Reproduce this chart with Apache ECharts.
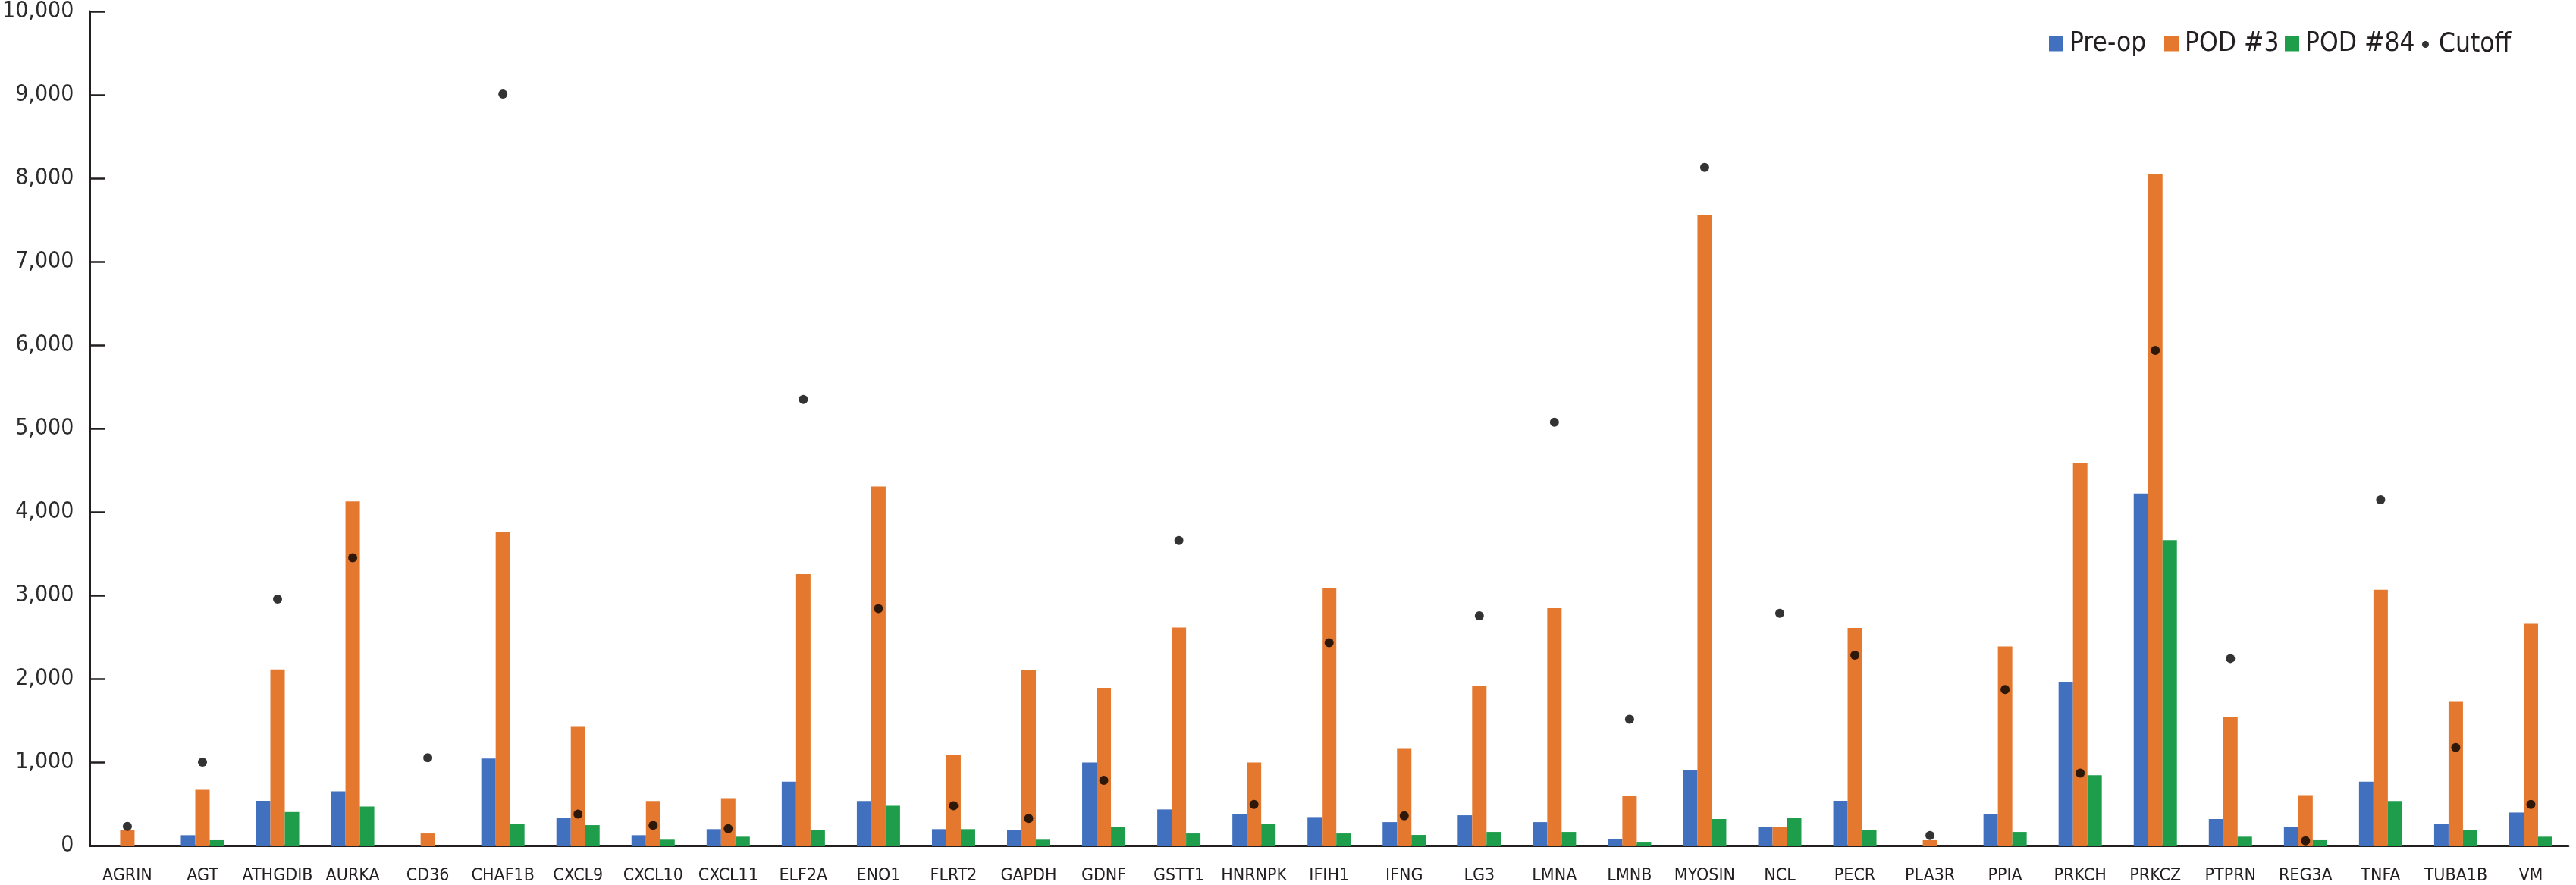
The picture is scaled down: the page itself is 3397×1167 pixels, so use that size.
<!DOCTYPE html>
<html>
<head>
<meta charset="utf-8">
<script src="https://cdn.jsdelivr.net/npm/echarts@6/dist/echarts.min.js"></script>
<style>
html,body{margin:0;padding:0;background:#fff;}
#chart{width:3397px;height:1167px;}
</style>
</head>
<body>
<div id="chart"></div>
<script>
const categories = ['AGRIN','AGT','ATHGDIB','AURKA','CD36','CHAF1B','CXCL9','CXCL10','CXCL11','ELF2A','ENO1','FLRT2','GAPDH','GDNF','GSTT1','HNRNPK','IFIH1','IFNG','LG3','LMNA','LMNB','MYOSIN','NCL','PECR','PLA3R','PPIA','PRKCH','PRKCZ','PTPRN','REG3A','TNFA','TUBA1B','VM'];
const preOp  = [0,124,536,650,0,1044,336,124,197,765,533,197,182,995,433,378,342,281,363,281,76,908,227,536,0,378,1964,4221,318,227,765,260,396];
const pod3   = [182,669,2112,4124,145,3761,1431,533,569,3254,4305,1092,2100,1891,2613,995,3088,1159,1909,2846,590,7556,227,2610,64,2387,4592,8054,1537,605,3066,1722,2659];
const pod84  = [0,64,402,469,0,263,245,70,106,182,478,197,70,227,145,263,145,127,163,163,45,318,336,182,0,163,844,3662,106,64,533,182,106];
const cutoff = [230,1001,2955,3450,1053,9010,378,242,203,5347,2840,478,324,781,3656,493,2432,357,2755,5076,1513,8129,2785,2281,121,1870,868,5937,2242,57,4145,1174,493];
const seriesNames = ['Pre-op','POD #3','POD #84','Cutoff'];
const yTicks = {min:0, max:10000, interval:1000};

const FONT = '"DejaVu Sans Condensed","Liberation Sans Narrow",sans-serif';
const INK = '#231f20';
const legendLefts = [2697, 2849, 3008, 3189];
const legendText = {fontFamily:FONT, fontSize:35, color:INK, padding:[0,0,0,3]};

const legends = seriesNames.map((n, i) => ({
  data:[n],
  left:legendLefts[i],
  top: i === 3 ? 36 : 35,
  itemWidth: i === 3 ? 9 : 19,
  itemHeight: i === 3 ? 9 : 20,
  icon: i === 3 ? 'circle' : 'rect',
  selectedMode:false,
  textStyle: Object.assign({}, legendText, i === 3 ? {padding:[0,0,0,8]} : {})
}));

const chart = echarts.init(document.getElementById('chart'), null, {renderer:'canvas'});
chart.setOption({
  animation:false,
  backgroundColor:'#ffffff',
  grid:{left:115, right:10, top:12.7, bottom:51, containLabel:false},
  legend:legends,
  xAxis:{
    type:'category', data:categories,
    axisLine:{show:true, lineStyle:{color:INK, width:3}},
    axisTick:{show:false},
    axisLabel:{fontFamily:FONT, fontSize:23, color:INK, margin:29, interval:0},
    splitLine:{show:false}
  },
  yAxis:{
    type:'value', min:yTicks.min, max:yTicks.max, interval:yTicks.interval,
    axisLine:{show:true, lineStyle:{color:INK, width:3}},
    axisTick:{show:true, inside:true, length:20, lineStyle:{color:INK, width:2.5}},
    axisLabel:{fontFamily:FONT, fontSize:30, color:'#2b2b2b', margin:21,
      formatter:v => v.toString().replace(/\B(?=(\d{3})+(?!\d))/g, ',')},
    splitLine:{show:false}
  },
  series:[
    {name:seriesNames[0], type:'bar', data:preOp, barWidth:19, barGap:'0%', itemStyle:{color:'#4170BF'}},
    {name:seriesNames[1], type:'bar', data:pod3, barWidth:19, barGap:'0%', itemStyle:{color:'#E4782F'}},
    {name:seriesNames[2], type:'bar', data:pod84, barWidth:19, barGap:'0%', itemStyle:{color:'#1E9E4A'}},
    {name:seriesNames[3], type:'scatter', data:cutoff, symbol:'circle', symbolSize:12, itemStyle:{color:'#000000'}, z:5}
  ]
});
</script>
</body>
</html>
